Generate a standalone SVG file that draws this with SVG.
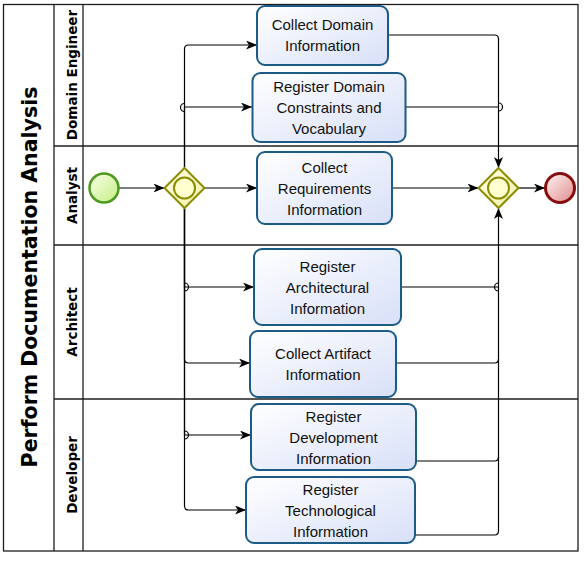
<svg xmlns="http://www.w3.org/2000/svg" width="585" height="561" viewBox="0 0 585 561">
<style>
.frame{fill:none;stroke:#1e1e1e;stroke-width:1.3}
.task{fill:url(#gTask);stroke:#1b5b85;stroke-width:2}
.tt{font-family:"Liberation Sans",Arial,sans-serif;font-size:15px;fill:#111;text-anchor:middle}
.lane{font-family:"DejaVu Sans",Verdana,sans-serif;font-size:13.5px;font-weight:bold;fill:#000;text-anchor:middle}
.pool{font-family:"DejaVu Sans",Verdana,sans-serif;font-size:20.5px;font-weight:bold;fill:#000;text-anchor:middle}
.flow{fill:none;stroke:#000;stroke-width:1.2}
.flowA{fill:none;stroke:#000;stroke-width:1.2;marker-end:url(#arr)}
.gw{fill:url(#gGw);stroke:#8c8c00;stroke-width:2}
.gwi{fill:#ffffd0;stroke:#8c8c00;stroke-width:2}
</style>
<defs>
<linearGradient id="gTask" x1="0" y1="0" x2="1" y2="1">
<stop offset="0" stop-color="#ffffff"/><stop offset="1" stop-color="#d8e0f8"/>
</linearGradient>
<linearGradient id="gGw" x1="0" y1="0" x2="1" y2="1">
<stop offset="0" stop-color="#ffffe8"/><stop offset="1" stop-color="#f0f0a8"/>
</linearGradient>
<linearGradient id="gStart" x1="0" y1="0" x2="1" y2="1">
<stop offset="0" stop-color="#f8ffe8"/><stop offset="1" stop-color="#c4ee84"/>
</linearGradient>
<linearGradient id="gEnd" x1="0" y1="0" x2="1" y2="1">
<stop offset="0" stop-color="#fff4f4"/><stop offset="1" stop-color="#e08c8c"/>
</linearGradient>
<marker id="arr" markerUnits="userSpaceOnUse" markerWidth="12" markerHeight="10" refX="11" refY="4.5" orient="auto">
<path d="M0,0 L11,4.5 L0,9 L3,4.5 Z" fill="#000"/>
</marker>
</defs>
<rect width="585" height="561" fill="#fff"/>
<g id="pool">
<rect class="frame" x="3.5" y="4.5" width="574.5" height="546.5"/>
<line class="frame" x1="54" y1="4.5" x2="54" y2="551"/>
<line class="frame" x1="83" y1="4.5" x2="83" y2="551"/>
<line class="frame" x1="54" y1="146" x2="578" y2="146"/>
<line class="frame" x1="54" y1="245" x2="578" y2="245"/>
<line class="frame" x1="54" y1="399" x2="578" y2="399"/>
<text class="pool" transform="translate(37,277) rotate(-90)">Perform Documentation Analysis</text>
<text class="lane" transform="translate(77,75) rotate(-90)">Domain Engineer</text>
<text class="lane" transform="translate(77,195.5) rotate(-90)">Analyst</text>
<text class="lane" transform="translate(77,322) rotate(-90)">Architect</text>
<text class="lane" transform="translate(77,475) rotate(-90)">Developer</text>
</g>
<g id="connectors">
<path class="flowA" d="M119,188 H164.5"/>
<path class="flowA" d="M184.5,168 V49 Q184.5,45 188.5,45 H257"/>
<path class="flowA" d="M184.5,168 V107 H252"/>
<path class="flow" d="M184.5,111.5 A4,4 0 0 1 184.5,103.5"/>
<path class="flowA" d="M204.5,188 H257"/>
<path class="flowA" d="M184.5,208 V287 H254"/>
<path class="flow" d="M184.5,283 A4,4 0 0 1 184.5,291"/>
<path class="flowA" d="M184.5,208 V359 Q184.5,363 188.5,363 H250"/>
<path class="flowA" d="M184.5,208 V435 H251"/>
<path class="flow" d="M184.5,431 A4,4 0 0 1 184.5,439"/>
<path class="flowA" d="M184.5,208 V506 Q184.5,510 188.5,510 H246"/>
<path class="flowA" d="M388,35 H494.5 Q498.5,35 498.5,39 V168"/>
<path class="flow" d="M406,107 H498.5"/>
<path class="flow" d="M498.5,103 A4,4 0 0 1 498.5,111"/>
<path class="flowA" d="M392,188 H478.5"/>
<path class="flow" d="M401,287 H498.5"/>
<path class="flow" d="M498.5,291 A4,4 0 0 1 498.5,283"/>
<path class="flow" d="M396,363 H494.5 Q498.5,363 498.5,359"/>
<path class="flow" d="M416,461 H494.5 Q498.5,461 498.5,457"/>
<path class="flowA" d="M415,535 H494.5 Q498.5,535 498.5,531 V208"/>
<path class="flowA" d="M518.5,188 H545"/>
</g>
<g id="start"><circle cx="104" cy="188" r="14.5" fill="url(#gStart)" stroke="#4e9a1e" stroke-width="2.5"/></g>
<g id="gateway1">
<path class="gw" d="M184.5,168 L204.5,188 L184.5,208 L164.5,188 Z"/>
<circle class="gwi" cx="184.5" cy="188" r="10.5"/>
</g>
<g id="gateway2">
<path class="gw" d="M498.5,168 L518.5,188 L498.5,208 L478.5,188 Z"/>
<circle class="gwi" cx="498.5" cy="188" r="10.5"/>
</g>
<g id="end"><circle cx="560" cy="188" r="14.5" fill="url(#gEnd)" stroke="#860e0e" stroke-width="3"/></g>
<g id="t1">
<rect class="task" x="257" y="6" width="131" height="59" rx="8"/>
<text class="tt" x="322.5" y="29.5">Collect Domain</text>
<text class="tt" x="322.5" y="50.5">Information</text>
</g>
<g id="t2">
<rect class="task" x="252.5" y="73" width="153" height="69" rx="8"/>
<text class="tt" x="329" y="91.5">Register Domain</text>
<text class="tt" x="329" y="112.5">Constraints and</text>
<text class="tt" x="329" y="133.5">Vocabulary</text>
</g>
<g id="t3">
<rect class="task" x="257" y="152" width="135" height="72" rx="8"/>
<text class="tt" x="324.5" y="172.5">Collect</text>
<text class="tt" x="324.5" y="193.5">Requirements</text>
<text class="tt" x="324.5" y="214.5">Information</text>
</g>
<g id="t4">
<rect class="task" x="254" y="249" width="147" height="76" rx="8"/>
<text class="tt" x="327.5" y="271.5">Register</text>
<text class="tt" x="327.5" y="292.5">Architectural</text>
<text class="tt" x="327.5" y="313.5">Information</text>
</g>
<g id="t5">
<rect class="task" x="250" y="331" width="146" height="66" rx="8"/>
<text class="tt" x="323" y="358.5">Collect Artifact</text>
<text class="tt" x="323" y="379.5">Information</text>
</g>
<g id="t6">
<rect class="task" x="251" y="404" width="165" height="66" rx="8"/>
<text class="tt" x="333.5" y="421.5">Register</text>
<text class="tt" x="333.5" y="442.5">Development</text>
<text class="tt" x="333.5" y="463.5">Information</text>
</g>
<g id="t7">
<rect class="task" x="246" y="477" width="169" height="66" rx="8"/>
<text class="tt" x="330.5" y="494.5">Register</text>
<text class="tt" x="330.5" y="515.5">Technological</text>
<text class="tt" x="330.5" y="536.5">Information</text>
</g>
</svg>
